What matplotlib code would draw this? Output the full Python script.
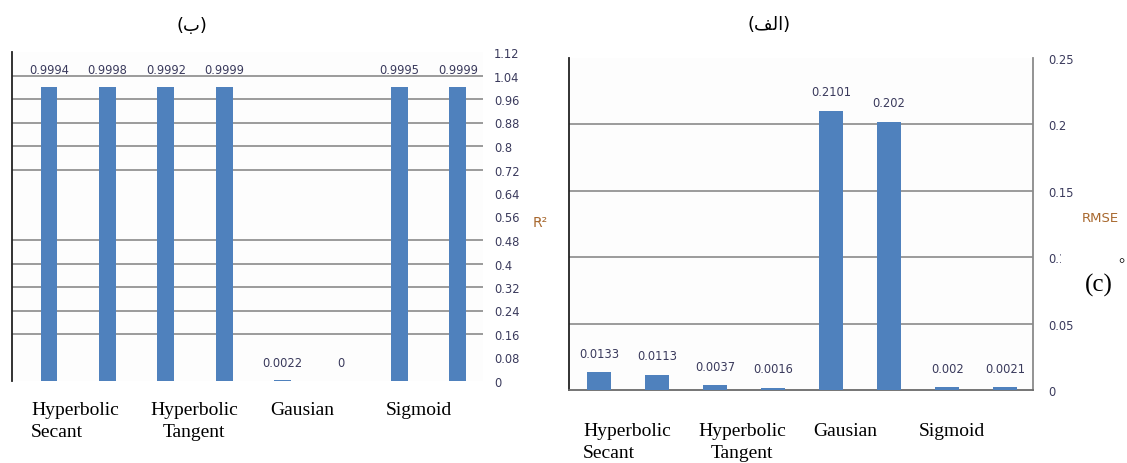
import matplotlib
matplotlib.use("Agg")
import matplotlib.pyplot as plt
from matplotlib.patches import Rectangle

# ---------------- data ----------------
categories = ["Hyperbolic\nSecant", "Hyperbolic\nTangent", "Gausian", "Sigmoid"]

r2_values = [0.9994, 0.9998, 0.9992, 0.9999, 0.0022, 0.0, 0.9995, 0.9999]
r2_labels = ["0.9994", "0.9998", "0.9992", "0.9999", "0.0022", "0", "0.9995", "0.9999"]
r2_ticks = [0, 0.08, 0.16, 0.24, 0.32, 0.4, 0.48, 0.56, 0.64, 0.72, 0.8, 0.88, 0.96, 1.04, 1.12]
r2_ticklabels = ["0", "0.08", "0.16", "0.24", "0.32", "0.4", "0.48", "0.56", "0.64",
                 "0.72", "0.8", "0.88", "0.96", "1.04", "1.12"]
r2_grid = [0.16, 0.24, 0.32, 0.4, 0.48, 0.72, 0.8, 0.88, 0.96, 1.04]

rmse_values = [0.0133, 0.0113, 0.0037, 0.0016, 0.2101, 0.202, 0.002, 0.0021]
rmse_labels = ["0.0133", "0.0113", "0.0037", "0.0016", "0.2101", "0.202", "0.002", "0.0021"]
rmse_ticks = [0, 0.05, 0.1, 0.15, 0.2, 0.25]
rmse_ticklabels = ["0", "0.05", "0.1", "0.15", "0.2", "0.25"]
rmse_grid = [0.05, 0.1, 0.15, 0.2]

title_left = "(\u0628)"                       # (ب)
title_right = "(\uFED2\uFEDF\uFE8D)"          # (الف) in visual order
ylabel_left = "R\u00b2"
ylabel_right = "RMSE"

# ---------------- style ----------------
W, H = 1127, 464
BAR = "#4F81BD"
GRID = "#8a8a8a"
TXT = "#3a3a5c"
AXL = "#A8682E"
SERIF = ["Liberation Serif", "DejaVu Serif"]

fig = plt.figure(figsize=(W / 100, H / 100), dpi=100)
fig.patch.set_facecolor("white")


def px_rect(x0, y0, x1, y1):
    return [x0 / W, (H - y1) / H, (x1 - x0) / W, (y1 - y0) / H]


# ---------------- left panel (R^2) ----------------
axL = fig.add_axes(px_rect(12, 53, 483, 382))
xs = list(range(len(r2_values)))
axL.bar(xs, r2_values, width=0.29, color=BAR, zorder=3)
for y in r2_grid:
    axL.axhline(y, color=GRID, lw=1.2, zorder=1)
axL.set_xlim(-0.634, 7.43)
axL.set_ylim(0, 1.12)
for x, v, lab in zip(xs, r2_values, r2_labels):
    axL.annotate(lab, xy=(x, v), xytext=(0, 18), textcoords="offset pixels",
                 ha="center", va="center", fontsize=8.3, color=TXT)
axL.yaxis.tick_right()
axL.set_yticks(r2_ticks)
axL.set_yticklabels(r2_ticklabels, fontsize=8.3, color=TXT)
axL.tick_params(axis="y", length=0, pad=8)
for lab in axL.get_yticklabels():
    lab.set_horizontalalignment("left")
axL.set_xticks([])
for s in ["top", "right", "bottom"]:
    axL.spines[s].set_visible(False)
axL.spines["left"].set_color("#222222")
axL.spines["left"].set_linewidth(1.3)
axL.set_facecolor("#fdfdfd")

# category labels left
offs_left = [(-2, "left", -45), (-1, "center", 0), (-10, "center", 0), (-10, "center", 0)]
for i, cat in enumerate(categories):
    dx, ma, extra = offs_left[i]
    axL.annotate(cat, xy=(2 * i + 0.5, 0), xycoords=("data", "axes fraction"),
                 xytext=(dx + extra, -20), textcoords="offset pixels",
                 ha="left" if ma == "left" else "center", va="top",
                 multialignment=ma, fontsize=14, family=SERIF, linespacing=1.38)

fig.text(540 / W, 1 - 223 / H, ylabel_left, fontsize=10, color=AXL,
         ha="center", va="center")
fig.text(192 / W, 1 - 26 / H, title_left, fontsize=13, ha="center", va="center",
         family=["DejaVu Sans"])

# ---------------- right panel (RMSE) ----------------
axR = fig.add_axes(px_rect(569, 59, 1033, 391))
xs = list(range(len(rmse_values)))
axR.bar(xs, rmse_values, width=0.41, color=BAR, zorder=3)
for y in rmse_grid:
    axR.axhline(y, color=GRID, lw=1.2, zorder=1)
axR.set_xlim(-0.517, 7.48)
axR.set_ylim(0, 0.25)
for x, v, lab in zip(xs, rmse_values, rmse_labels):
    axR.annotate(lab, xy=(x, v), xytext=(0, 19), textcoords="offset pixels",
                 ha="center", va="center", fontsize=8.3, color=TXT)
axR.yaxis.tick_right()
axR.set_yticks(rmse_ticks)
axR.set_yticklabels(rmse_ticklabels, fontsize=8.3, color=TXT)
axR.tick_params(axis="y", length=0, pad=11)
for lab in axR.get_yticklabels():
    lab.set_horizontalalignment("left")
axR.set_xticks([])
axR.spines["top"].set_visible(False)
axR.spines["left"].set_color("#222222")
axR.spines["left"].set_linewidth(1.3)
axR.spines["right"].set_color(GRID)
axR.spines["right"].set_linewidth(1.3)
axR.spines["bottom"].set_color("#6a6a6a")
axR.spines["bottom"].set_linewidth(1.3)
axR.set_facecolor("#fdfdfd")

offs_right = [(0, "left", -45), (-2, "center", 0), (-15, "center", 0), (-24, "center", 0)]
for i, cat in enumerate(categories):
    dx, ma, extra = offs_right[i]
    axR.annotate(cat, xy=(2 * i + 0.5, 0), xycoords=("data", "axes fraction"),
                 xytext=(dx + extra, -32), textcoords="offset pixels",
                 ha="left" if ma == "left" else "center", va="top",
                 multialignment=ma, fontsize=14, family=SERIF, linespacing=1.38)

fig.text(1082 / W, 1 - 219 / H, ylabel_right, fontsize=9.5, color=AXL,
         ha="left", va="center")
fig.text(769 / W, 1 - 25 / H, title_right, fontsize=13, ha="center", va="center",
         family=["DejaVu Sans"])

# white patch with "(c)°"
fig.patches.append(Rectangle((1061 / W, 1 - 300 / H), (W - 1061) / W, 52 / H,
                             transform=fig.transFigure, facecolor="white",
                             edgecolor="none", zorder=10))
fig.text(1099 / W, 1 - 285 / H, "(c)", fontsize=18, family=SERIF,
         ha="center", va="center", zorder=11)
fig.text(1121 / W, 1 - 265 / H, "\u00b0", fontsize=11, family=SERIF,
         ha="center", va="center", zorder=11)

fig.savefig("out.png", dpi=100, facecolor="white")
